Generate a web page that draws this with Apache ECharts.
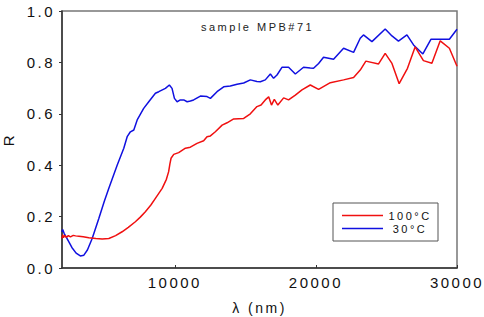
<!DOCTYPE html>
<html>
<head>
<meta charset="utf-8">
<script src="https://cdn.jsdelivr.net/npm/echarts@6/dist/echarts.min.js"></script>
<style>
  body { margin: 0; background: #fff; }
  #chart { width: 484px; height: 317px; }
  /* the original plot has wide letter spacing on all its text */
  #chart text { letter-spacing: 2.5px; }
</style>
</head>
<body>
<div id="chart"></div>
<script>
// 30°C curve (blue)
const lam30 = [2000, 2050, 2150, 2400, 2700, 3000, 3300, 3550, 3800, 4140, 4610, 5000, 5320, 5910, 6380, 6620, 6850, 7090, 7330, 7790, 8150, 8620, 8860, 9330, 9610, 9800, 9970, 10160, 10390, 10630, 10870, 11100, 11330, 11810, 12280, 12520, 12990, 13460, 13930, 14410, 14880, 15350, 15820, 16060, 16410, 16770, 17000, 17240, 17590, 18060, 18540, 19120, 19600, 19830, 20190, 20540, 21250, 21960, 22670, 23140, 23370, 23970, 24910, 25390, 25850, 26450, 26920, 27580, 28150, 29460, 30000];
const r30 = [0.14, 0.15, 0.135, 0.11, 0.08, 0.058, 0.047, 0.05, 0.07, 0.115, 0.193, 0.26, 0.31, 0.40, 0.466, 0.511, 0.53, 0.537, 0.576, 0.621, 0.647, 0.68, 0.686, 0.699, 0.712, 0.699, 0.66, 0.647, 0.654, 0.654, 0.647, 0.65, 0.654, 0.669, 0.667, 0.66, 0.686, 0.705, 0.708, 0.715, 0.72, 0.732, 0.726, 0.725, 0.732, 0.755, 0.738, 0.751, 0.781, 0.781, 0.755, 0.781, 0.778, 0.777, 0.796, 0.82, 0.812, 0.855, 0.839, 0.894, 0.907, 0.881, 0.93, 0.903, 0.883, 0.907, 0.868, 0.833, 0.89, 0.89, 0.929];

// 100°C curve (red)
const lam100 = [2000, 2050, 2100, 2200, 2300, 2450, 2600, 2800, 2960, 3200, 3500, 3900, 4400, 4850, 5320, 5800, 6260, 6700, 7200, 7550, 7910, 8300, 8620, 9100, 9400, 9560, 9650, 9730, 9920, 10270, 10750, 11100, 11570, 12040, 12280, 12520, 12870, 13350, 13700, 14170, 14880, 15350, 15820, 16110, 16410, 16650, 16850, 17050, 17300, 17710, 18060, 18540, 19010, 19600, 20190, 21020, 21960, 22670, 23140, 23540, 24440, 24910, 25390, 25900, 26490, 27030, 27620, 28220, 28810, 29460, 30000];
const r100 = [0.115, 0.13, 0.118, 0.127, 0.119, 0.126, 0.121, 0.127, 0.125, 0.124, 0.122, 0.118, 0.115, 0.113, 0.115, 0.126, 0.141, 0.158, 0.18, 0.198, 0.219, 0.245, 0.271, 0.31, 0.345, 0.375, 0.405, 0.427, 0.442, 0.449, 0.466, 0.47, 0.485, 0.495, 0.511, 0.514, 0.53, 0.556, 0.565, 0.58, 0.582, 0.60, 0.628, 0.634, 0.654, 0.666, 0.634, 0.656, 0.634, 0.662, 0.654, 0.673, 0.693, 0.712, 0.695, 0.721, 0.732, 0.741, 0.77, 0.805, 0.794, 0.835, 0.796, 0.717, 0.777, 0.86, 0.807, 0.797, 0.884, 0.855, 0.785];

const xTicks = [10000, 20000, 30000];
const seriesNames = ['100°C', '30°C'];

const FONT = 'Liberation Sans, Arial, sans-serif';
const chart = echarts.init(document.getElementById('chart'), null, { renderer: 'svg' });

const zip = (xs, ys) => xs.map((x, i) => [x, ys[i]]);

chart.setOption({
  animation: false,
  title: {
    text: 'sample MPB#71',
    left: 201,
    top: 21,
    padding: 0,
    textStyle: { fontFamily: FONT, fontSize: 11, fontWeight: 'normal', color: '#222' }
  },
  legend: {
    data: seriesNames,
    orient: 'vertical',
    left: 333,
    top: 203,
    padding: [7, 6, 7, 9],
    itemWidth: 41,
    itemHeight: 1.5,
    itemGap: 2,
    icon: 'rect',
    borderColor: '#555',
    borderWidth: 1,
    formatter: name => '{t|' + name + '}',
    textStyle: {
      fontFamily: FONT,
      fontSize: 11,
      color: '#111',
      rich: { t: { width: 44, align: 'center', fontSize: 11, lineHeight: 12, fontFamily: FONT } }
    }
  },
  grid: {
    left: 62, right: 27, top: 11, bottom: 49,
    outerBoundsMode: 'none',
    show: true,
    borderColor: '#777',
    borderWidth: 1.5
  },
  xAxis: {
    type: 'value',
    min: 2000,
    max: 30000,
    name: 'λ (nm)',
    nameLocation: 'middle',
    nameGap: 33,
    nameTextStyle: { fontFamily: FONT, fontSize: 14, color: '#111' },
    axisLine: { lineStyle: { color: '#333', width: 1.5 } },
    axisTick: { inside: true, length: 3, customValues: xTicks, lineStyle: { color: '#333' } },
    axisLabel: { customValues: xTicks, margin: 7, fontFamily: FONT, fontSize: 15, color: '#111', formatter: v => String(v) },
    splitLine: { show: false }
  },
  yAxis: {
    type: 'value',
    min: 0,
    max: 1,
    interval: 0.2,
    name: 'R',
    nameLocation: 'middle',
    nameGap: 46,
    nameTextStyle: { fontFamily: FONT, fontSize: 15, color: '#111' },
    axisLine: { show: true, lineStyle: { color: '#333', width: 1.5 } },
    axisTick: { show: true, length: 3, lineStyle: { color: '#333' } },
    axisLabel: { margin: 7, fontFamily: FONT, fontSize: 15, color: '#111', formatter: v => v.toFixed(1) },
    splitLine: { show: false }
  },
  series: [
    {
      name: '30°C',
      type: 'line',
      data: zip(lam30, r30),
      showSymbol: false,
      color: '#1010e0',
      lineStyle: { width: 1.5, color: '#1010e0' }
    },
    {
      name: '100°C',
      type: 'line',
      data: zip(lam100, r100),
      showSymbol: false,
      color: '#f01010',
      lineStyle: { width: 1.5, color: '#f01010' }
    }
  ]
});
</script>
</body>
</html>
